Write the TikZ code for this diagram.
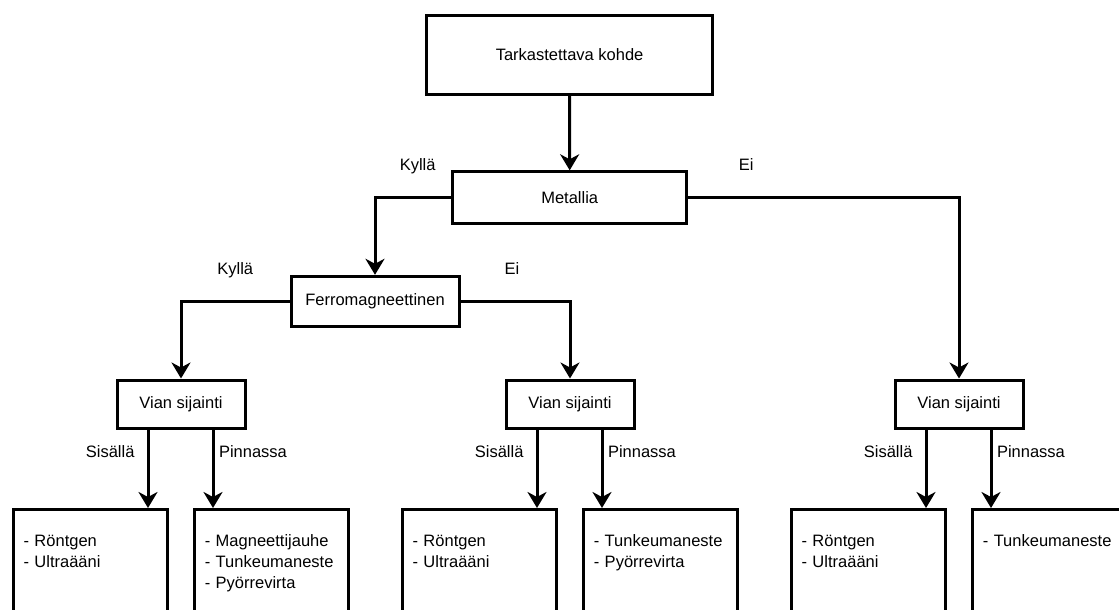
\documentclass[tikz,border=0pt]{standalone}
\usepackage{fontspec}
\setmainfont{Liberation Sans}
\usetikzlibrary{arrows.meta}

\begin{document}
\begin{tikzpicture}[
          x=1pt,
          y=-1pt,
          line width=3pt,
          font=\fontsize{16.5}{21}\selectfont,
          box/.style={
            draw,
            rectangle,
            minimum width=128pt,
            minimum height=48pt},
          leaf/.style={
            draw,
            anchor=north,
            align=left,
            text width=134pt,
            inner xsep=10pt,
            inner ysep=8pt,
            text height=29pt,
            text depth=120pt},
          arrow/.style={
            -{Stealth[length=16pt,width=19pt,inset=5pt]}},
          answer/.style={
            inner sep=0pt,
            text depth=0pt},
        ]
          \clip (0,0) rectangle (1119,610);
          \node[box, minimum width=286pt, minimum height=79pt] (kohde) at (569.6,54.6) {Tarkastettava kohde};
          \node[box, minimum width=234pt, minimum height=52pt] (metalli) at (569.7,197.8) {Metallia};
          \node[box, minimum width=168pt, minimum height=50pt] (ferro) at (375,301.3) {Ferromagneettinen};
          \node[box] (vian1) at (181,404) {Vian sijainti};
          \node[box] (vian2) at (570,404) {Vian sijainti};
          \node[box] (vian3) at (959,404) {Vian sijainti};
          \node[leaf] (tulos1) at (90.5,508) {- Röntgen\\- Ultraääni};
          \node[leaf] (tulos2) at (271.75,508) {- Magneettijauhe\\- Tunkeumaneste\\- Pyörrevirta};
          \node[leaf] (tulos3) at (479.5,508) {- Röntgen\\- Ultraääni};
          \node[leaf] (tulos4) at (660.75,508) {- Tunkeumaneste\\- Pyörrevirta};
          \node[leaf] (tulos5) at (868.5,508) {- Röntgen\\- Ultraääni};
          \node[leaf] (tulos6) at (1049.75,508) {- Tunkeumaneste};

          \draw[arrow] (kohde) -- (metalli);
          \draw[arrow] (metalli.west) -| node[answer, pos=0.22, above=25.5pt] {Kyllä} (ferro.north);
          \draw[arrow] (metalli.east) -| node[answer, pos=0.107, above=25.5pt] {Ei} (vian3.north);
          \draw[arrow] (ferro.west) -| node[answer, pos=0.25, above=25.5pt] {Kyllä} (vian1.north);
          \draw[arrow] (ferro.east) -| node[answer, pos=0.235, above=25.5pt] {Ei} (vian2.north);

          \draw[arrow] ([xshift=-33pt]vian1.south) -- node[answer, pos=0.28, left=12pt] {Sisällä} ([xshift=-33pt]vian1.south |- tulos1.north);
          \draw[arrow] ([xshift=32pt]vian1.south) -- node[answer, pos=0.28, right=4.5pt] {Pinnassa} ([xshift=32pt]vian1.south |- tulos2.north);
          \draw[arrow] ([xshift=-33pt]vian2.south) -- node[answer, pos=0.28, left=12pt] {Sisällä} ([xshift=-33pt]vian2.south |- tulos3.north);
          \draw[arrow] ([xshift=32pt]vian2.south) -- node[answer, pos=0.28, right=4.5pt] {Pinnassa} ([xshift=32pt]vian2.south |- tulos4.north);
          \draw[arrow] ([xshift=-33pt]vian3.south) -- node[answer, pos=0.28, left=12pt] {Sisällä} ([xshift=-33pt]vian3.south |- tulos5.north);
          \draw[arrow] ([xshift=32pt]vian3.south) -- node[answer, pos=0.28, right=4.5pt] {Pinnassa} ([xshift=32pt]vian3.south |- tulos6.north);
        \end{tikzpicture}
\end{document}
